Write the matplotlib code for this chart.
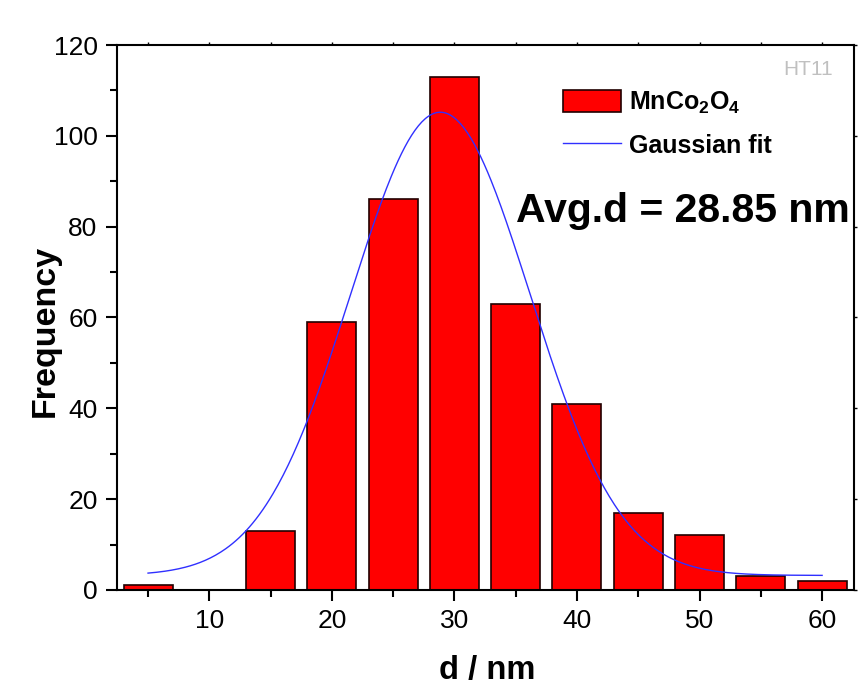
import numpy as np
import matplotlib
matplotlib.use("Agg")
import matplotlib.pyplot as plt
from matplotlib.ticker import MultipleLocator

plt.rcParams['font.family'] = ['Liberation Sans', 'DejaVu Sans']
plt.rcParams['mathtext.fontset'] = 'custom'
plt.rcParams['mathtext.rm'] = 'Liberation Sans:bold'
plt.rcParams['mathtext.it'] = 'Liberation Sans:bold'
plt.rcParams['mathtext.bf'] = 'Liberation Sans:bold'

# histogram bins (bin centre, nm) and counts
bin_centres = [5, 10, 15, 20, 25, 30, 35, 40, 45, 50, 55, 60]
counts = [1, 0, 13, 59, 86, 113, 63, 41, 17, 12, 3, 2]

# gaussian fit parameters
fit_y0 = 3.2
fit_xc = 28.85
fit_sigma = 7.33
fit_amp = 102.0
fit_range = (5, 60)

fig = plt.figure(figsize=(8.58, 6.86), dpi=100)
ax = fig.add_axes([0.1364, 0.140, 0.8589, 0.7944])

ax.bar(bin_centres, counts, width=4.0, color='#ff0000', edgecolor='#200000',
       linewidth=1.2, label='MnCo$_2$O$_4$', zorder=2)

xf = np.linspace(fit_range[0], fit_range[1], 400)
yf = fit_y0 + fit_amp * np.exp(-(xf - fit_xc) ** 2 / (2 * fit_sigma ** 2))
ax.plot(xf, yf, color='#3030ff', lw=1.0, label='Gaussian fit', zorder=3)

ax.set_xlim(2.47, 62.6)
ax.set_ylim(0, 120)
ax.xaxis.set_major_locator(MultipleLocator(10))
ax.xaxis.set_minor_locator(MultipleLocator(5))
ax.yaxis.set_major_locator(MultipleLocator(20))
ax.yaxis.set_minor_locator(MultipleLocator(10))

for s in ax.spines.values():
    s.set_linewidth(1.5)

ax.tick_params(which='major', direction='out', length=8, width=1.5,
               labelsize=19, pad=6)
ax.tick_params(which='minor', direction='out', length=5, width=1.5)
ax.tick_params(axis='x', which='both', top=True, labeltop=False)
ax.tick_params(axis='y', which='both', right=True, labelright=False)
# tiny ticks on the top and right axes
for t in ax.xaxis.get_major_ticks() + ax.xaxis.get_minor_ticks():
    t.tick2line.set_markersize(2)
    t.tick2line.set_markeredgewidth(1)
for t in ax.yaxis.get_major_ticks():
    t.tick2line.set_markersize(2)
    t.tick2line.set_markeredgewidth(1)
for t in ax.yaxis.get_minor_ticks():
    t.tick2line.set_markersize(0)

ax.set_xlabel('d / nm', fontsize=23.5, fontweight='bold')
ax.set_ylabel('Frequency', fontsize=24.5, fontweight='bold')
ax.xaxis.set_label_coords(0.502, -0.119)
ax.yaxis.set_label_coords(-0.077, 0.476)

handles, labels = ax.get_legend_handles_labels()
order = [labels.index('MnCo$_2$O$_4$'), labels.index('Gaussian fit')]
leg = ax.legend([handles[i] for i in order], [labels[i] for i in order],
                loc='upper left', bbox_to_anchor=(0.591, 0.937), frameon=False,
                prop={'size': 18, 'weight': 'bold'}, handlelength=2.35,
                handleheight=1.0, handletextpad=0.3, labelspacing=0.72,
                borderaxespad=0)

ax.text(0.9715, 0.972, 'HT11', transform=ax.transAxes, ha='right', va='top',
        fontsize=15, color='#c0c0c0')
ax.text(0.541, 0.695, 'Avg.d = 28.85 nm', transform=ax.transAxes, ha='left',
        va='center', fontsize=29.5, fontweight='bold', clip_on=False, zorder=5)

fig.savefig('out.png', dpi=100)
